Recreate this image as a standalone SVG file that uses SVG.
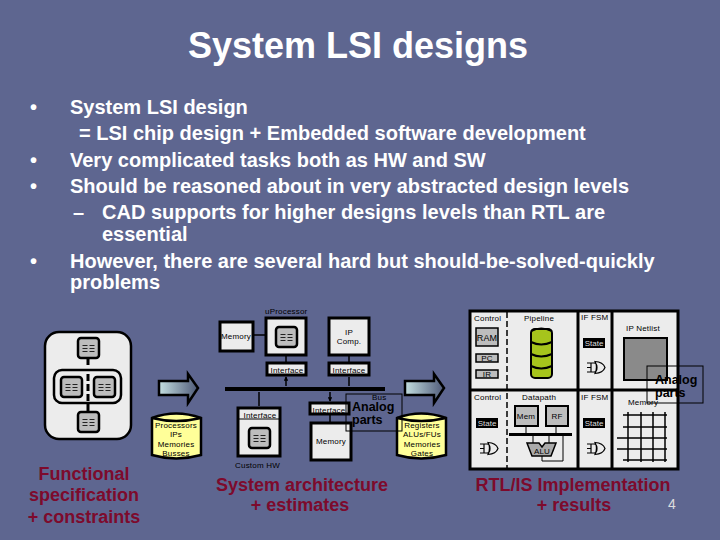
<svg xmlns="http://www.w3.org/2000/svg" width="720" height="540" viewBox="0 0 720 540">
<style>
text{font-family:"Liberation Sans",Arial,sans-serif}
.title{font-size:36px;font-weight:bold;fill:#fff;text-anchor:middle}
.b{font-size:20px;font-weight:bold;fill:#fff}
.cap{font-size:18px;font-weight:bold;fill:#7d0a2c;text-anchor:middle}
.s{font-size:8px;fill:#000;letter-spacing:.2px}
.m{text-anchor:middle}
.box{fill:#ececec;stroke:#000;stroke-width:3}
.hdr{fill:#ececec;stroke:#000;stroke-width:3}
.thin{fill:none;stroke:#000;stroke-width:1}
.bar{stroke:#000;stroke-width:3;fill:none}
.wire{stroke:#000;stroke-width:1.500;fill:none;marker-end:url(#tip);marker-start:url(#tip)}
.cyl{fill:#ffff99;stroke:#000;stroke-width:2.500}
.grey{fill:#bdbdbd;stroke:#000;stroke-width:2.500}
.an{font-size:12.500px;font-weight:bold;fill:#000}
</style>
<defs>
<marker id="tip" viewBox="0 0 6 6" refX="5" refY="3" markerWidth="3" markerHeight="3" orient="auto-start-reverse"><path d="M0 0L6 3L0 6Z" fill="#000"/></marker>
<linearGradient id="g" x1="0" x2="1" y1="0" y2="0"><stop offset="0" stop-color="#c4dfe0"/><stop offset="1" stop-color="#4f5a78"/></linearGradient>
<g id="icon"><rect x="0" y="0" width="21" height="20" rx="3" class="grey"/><path d="M4.500 7.500h5M11.500 7.500h5M4.500 10.500h5M11.500 10.500h5M4.500 13.500h5M11.500 13.500h5" stroke="#222" stroke-width="1" fill="none"/></g>
<g id="arrow"><path d="M1 8H30V1L40 15L30 30V22H1Z" fill="url(#g)" stroke="#000" stroke-width="2.500"/></g>
<g id="state"><rect width="22" height="10" fill="#000"/><text x="11" y="8" class="m" style="font-size:8px;fill:#ddd">State</text></g>
<g id="gate"><path d="M0 7.500H4M0 3H4V12H0M4 3H7Q10 3 10 7.500Q10 12 7 12H4ZM8 1.500Q16 2 18 7.500Q16 13 8 13.500Q11 7.500 8 1.500Z" fill="#ececec" stroke="#000" stroke-width="1.200"/></g>
</defs>
<rect width="720" height="540" fill="#5e6690"/>
<text x="358" y="58" class="title">System LSI designs</text>
<g id="bullets">
<text x="30" y="114" class="b">•</text><text x="70" y="114" class="b">System LSI design</text>
<text x="79" y="140" class="b">= LSI chip design + Embedded software development</text>
<text x="30" y="167" class="b">•</text><text x="70" y="167" class="b">Very complicated tasks both as HW and SW</text>
<text x="30" y="193" class="b">•</text><text x="70" y="193" class="b">Should be reasoned about in very abstracted design levels</text>
<text x="73" y="219" class="b">–</text><text x="102" y="219" class="b">CAD supports for higher designs levels than RTL are</text>
<text x="102" y="241" class="b">essential</text>
<text x="30" y="268" class="b">•</text><text x="70" y="268" class="b">However, there are several hard but should-be-solved-quickly</text>
<text x="70" y="289" class="b">problems</text>
</g>
<g id="functional-spec">
<rect x="45" y="332" width="86" height="107" rx="14" fill="#ececec" stroke="#000" stroke-width="2.500"/>
<rect x="54" y="370" width="67" height="33" rx="8" fill="#ececec" stroke="#000" stroke-width="2.500"/>
<use href="#icon" x="78" y="338"/><use href="#icon" x="61" y="377"/><use href="#icon" x="94" y="377"/><use href="#icon" x="78" y="412"/>
<path d="M88 358V368M88 374V412" class="bar" stroke-dasharray="7 3"/>
</g>
<use id="arrow-1" href="#arrow" x="158" y="373"/>
<g id="lib-1"><path d="M152 418V455Q176 462 201 455V418Q176 409 152 418Z" class="cyl"/><path d="M152 418Q176 424 201 418" class="cyl" fill="none"/>
<g class="s m"><text x="176" y="428">Processors</text><text x="176" y="437">IPs</text><text x="176" y="447">Memories</text><text x="176" y="456">Busses</text></g></g>
<text x="84" y="480" class="cap">Functional</text><text x="84" y="501" class="cap">specification</text><text x="84" y="523" class="cap">+ constraints</text>

<g id="connectors-sys">
<path d="M225 389H385" stroke="#000" stroke-width="4"/>
<path d="M254 335H265M286 356V362M349 356V362M330 414V422" stroke="#000" stroke-width="1.500" fill="none"/>
<path d="M286 377V386M349 377V386M259 392V406M330 392V401" class="wire"/>
</g>
<g id="sys-memory"><rect x="220" y="322" width="33" height="29" class="box"/><text x="236" y="339" class="s m">Memory</text></g>
<g id="uproc"><rect x="266" y="318" width="40" height="37" class="box"/><use href="#icon" x="276" y="327"/><text x="265" y="314" class="s">uProcessor</text></g>
<g id="ip"><rect x="329" y="318" width="40" height="37" class="box"/><text x="349" y="335" class="s m">IP</text><text x="349" y="344" class="s m">Comp.</text></g>
<g id="if1"><rect x="267" y="363" width="39" height="12" class="hdr"/><text x="287" y="373" class="s m">Interface</text></g>
<g id="if2"><rect x="329" y="363" width="40" height="12" class="hdr"/><text x="349" y="373" class="s m">Interface</text></g>
<g id="custom"><rect x="238" y="408" width="42" height="48" class="box"/><path d="M238 419H280" stroke="#000"/><text x="260" y="418" class="s m">Interface</text><use href="#icon" x="249" y="428"/><text x="235" y="468" class="s">Custom HW</text></g>
<g id="if3"><rect x="310" y="403" width="39" height="11" class="hdr"/><text x="329" y="413" class="s m">Interface</text></g>
<g id="mem2"><rect x="311" y="423" width="40" height="37" class="box"/><text x="331" y="444" class="s m">Memory</text></g>
<text x="372" y="400" class="s">Bus</text>
<use id="arrow-2" href="#arrow" x="404" y="373"/>
<g id="lib-2"><path d="M397 418V455Q421 462 446 455V418Q421 409 397 418Z" class="cyl"/><path d="M397 418Q421 424 446 418" class="cyl" fill="none"/>
<g class="s m"><text x="422" y="428">Registers</text><text x="422" y="437">ALUs/FUs</text><text x="422" y="447">Memories</text><text x="422" y="456">Gates</text></g></g>
<g id="analog-1"><rect x="346" y="394" width="56" height="37" class="thin"/><text x="352" y="411" class="an">Analog</text><text x="352" y="424" class="an">parts</text></g>
<text x="302" y="491" class="cap">System architecture</text><text x="300" y="511" class="cap">+ estimates</text>

<g id="rtl">
<rect x="470" y="311" width="208" height="158" fill="#ececec" stroke="#000" stroke-width="3"/>
<path d="M470 390H678M578 311V469M612 311V469" class="bar"/>
<path d="M507 312V468" stroke="#000" fill="none" stroke-width="1.500" stroke-dasharray="6 3"/>
<text x="474" y="321" class="s">Control</text><text x="524" y="321" class="s">Pipeline</text><text x="581" y="320" class="s">IF FSM</text><text x="626" y="331" class="s">IP Netlist</text>
<rect x="476" y="328" width="22" height="18" fill="#bdbdbd" stroke="#000" stroke-width="1.500"/><text x="487" y="341" class="s m" style="font-size:9px">RAM</text>
<rect x="476" y="354" width="22" height="8" fill="#bdbdbd" stroke="#000" stroke-width="1.500"/><text x="487" y="361" class="s m">PC</text>
<rect x="476" y="370" width="22" height="8" fill="#bdbdbd" stroke="#000" stroke-width="1.500"/><text x="487" y="377" class="s m">IR</text>
<g id="pipe" fill="#a6c41c" stroke="#000" stroke-width="2"><rect x="531" y="329" width="21" height="49" rx="4"/></g>
<path d="M531 331Q541 326 552 331M531 342Q541 347 552 342M531 354Q541 359 552 354M531 366Q541 371 552 366" stroke="#000" stroke-width="2" fill="none"/>
<rect x="624" y="338" width="43" height="42" fill="#8a8a8a" stroke="#000" stroke-width="2"/>
<use href="#state" x="583" y="338"/><use href="#gate" x="587" y="360"/>
<text x="474" y="400" class="s">Control</text><text x="522" y="400" class="s">Datapath</text><text x="581" y="400" class="s">IF FSM</text><text x="628" y="405" class="s">Memory</text>
<use href="#state" x="476" y="418"/><use href="#gate" x="480" y="441"/><use href="#state" x="583" y="418"/><use href="#gate" x="587" y="441"/>
<rect x="515" y="406" width="23" height="20" fill="#bdbdbd" stroke="#000" stroke-width="2"/><text x="526" y="419" class="s m">Mem</text>
<rect x="546" y="406" width="22" height="20" fill="#bdbdbd" stroke="#000" stroke-width="2"/><text x="557" y="419" class="s m">RF</text>
<path d="M509 434.500H572" stroke="#000" stroke-width="3"/>
<path d="M526 426V433M556 426V433M533 436V443M549 436V443M542 456V461H563V436" class="thin"/>
<path d="M527 443H539L542 447L545 443H556L551 456H532Z" fill="#aaa" stroke="#000" stroke-width="1.500"/><text x="542" y="454" class="s m">ALU</text>
<path d="M628 412V462M641 412V462M653 412V462M665 412V462M623 415H667M623 427H667M617 438H667M617 449H667M623 460H667" stroke="#000" stroke-width="1.500"/>
</g>
<g id="analog-2"><rect x="647" y="366" width="56" height="37" class="thin"/><text x="655" y="384" class="an">Analog</text><text x="655" y="397" class="an">parts</text></g>
<text x="573" y="491" class="cap">RTL/IS Implementation</text><text x="574" y="511" class="cap">+ results</text>
<text x="672" y="509" style="font-size:14px;fill:#ddd" text-anchor="middle">4</text>
</svg>
